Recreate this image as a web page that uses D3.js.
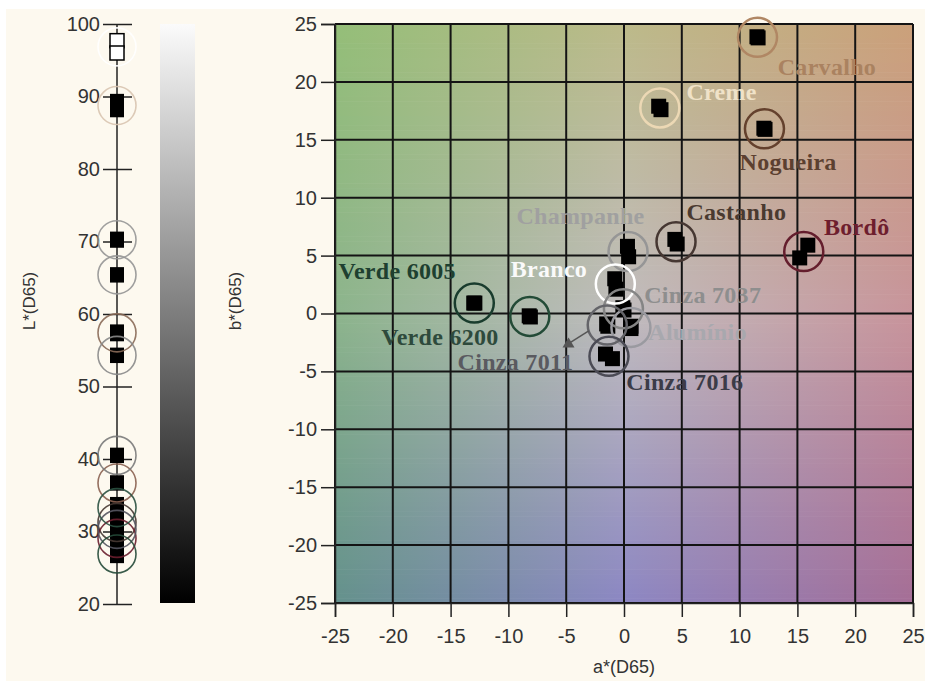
<!DOCTYPE html>
<html><head><meta charset="utf-8">
<script src="https://cdn.jsdelivr.net/npm/d3@7"></script>
<style>body{margin:0;background:#fff;overflow:hidden}</style>
</head><body>
<script>
// ---- data ----
const samples = ["Carvalho","Creme","Nogueira","Castanho","Bordô","Champanhe","Branco","Cinza 7037","Alumínio","Cinza 7011","Cinza 7016","Verde 6005","Verde 6200"];
const aStar1 = [11.5, 3.0, 12.1, 4.4, 15.2, 0.3, -0.8, -0.1, 0.6, -1.5, -1.6, -13.0, -8.2];
const aStar2 = [11.6, 3.2, 12.2, 4.6, 15.9, 0.4, -0.7, 0.0, 0.6, -1.4, -1.0, -12.9, -8.1];
const bStar1 = [23.9, 17.9, 16.0, 6.4, 4.8, 5.8, 3.0, 0.5, -1.1, -0.9, -3.5, 0.9, -0.2];
const bStar2 = [23.8, 17.6, 15.9, 6.0, 5.9, 4.9, 2.1, 0.3, -1.3, -1.1, -3.9, 0.9, -0.3];
const lStar1 = [57.6, 89.4, 36.8, 31.5, 29.5, 70.4, 97.7, 54.4, 65.5, 40.6, 30.6, 27.2, 33.8];
const lStar2 = [57.2, 88.1, 36.6, 31.0, 28.6, 70.1, 96.0, 54.2, 65.3, 40.4, 30.0, 26.6, 32.8];
const labelA = [13.3, 5.4, 10.0, 5.4, 17.3, -9.3, -9.8, 1.75, 2.1, -14.4, 0.2, -24.7, -21.0];
const labelB = [20.6, 18.4, 12.4, 8.1, 6.8, 7.7, 3.15, 0.9, -2.3, -4.9, -6.6, 3.0, -2.7];
const circleColors = ["#b08764","#ecd8b4","#64412d","#463732","#641e2d","#969696","#ffffff","#858585","#9a9aa0","#646469","#4b4b55","#193c2d","#234b37"];
const labelColors = ["#aa8260","#f0e2c8","#5c4030","#4a3a30","#6e1e2e","#a0a0a0","#fafafa","#8e8e8e","#a8a8ae","#5a5a60","#3c3c48","#1e4030","#2e4a3c"];
const lCircleColors = ["#8a6a58","#d8c4b0","#8a6050","#463732","#6a1e2d","#969696","#ffffff","#8a8a8a","#959595","#7a7a7a","#555560","#254a38","#2a5040"];
const lSquareFill = ["#000","#000","#000","#000","#000","#000","#fff","#000","#000","#000","#000","#000","#000"];
const arrowFrom = [-3.05, -1.5];
const arrowTo = [-4.8, -2.6];
const abTicks = [-25,-20,-15,-10,-5,0,5,10,15,20,25];
const lTicks = [20,30,40,50,60,70,80,90,100];
const bgTop = ["rgb(148,190,120)","rgb(188,186,138)","rgb(203,160,122)"];
const bgMid = ["rgb(140,180,140)","rgb(192,188,190)","rgb(200,148,155)"];
const bgBot = ["rgb(100,145,140)","rgb(140,135,195)","rgb(165,110,150)"];

// ---- svg ----
const W = 925, H = 681;
const svg = d3.select("body").append("svg").attr("width", W).attr("height", H);
svg.append("rect").attr("width", W).attr("height", H).attr("fill", "#fff");
svg.append("rect").attr("x", 6).attr("y", 9).attr("width", W - 6).attr("height", H - 9).attr("fill", "#fdf9ef");
const defs = svg.append("defs");

const x = d3.scaleLinear().domain([-25, 25]).range([335, 913]);
const y = d3.scaleLinear().domain([-25, 25]).range([603, 24]);
const yL = d3.scaleLinear().domain([20, 100]).range([604, 24]);
const sansFont = "'Liberation Sans', Arial, sans-serif";
const serifFont = "'Liberation Serif', 'Times New Roman', serif";
const fmt = d => String(d);

// background colour field
const N = 120;
const stripB = d3.range(N).map(i => 25 - 50 * i / N);
const step = 50 / N;
stripB.forEach((b, i) => {
  const bc = b - step / 2;
  const cols = [0, 1, 2].map(k => bc >= 0
    ? d3.interpolateRgb(bgMid[k], bgTop[k])(bc / 25)
    : d3.interpolateRgb(bgMid[k], bgBot[k])(-bc / 25));
  const g = defs.append("linearGradient").attr("id", "g" + i).attr("x1", "0%").attr("x2", "100%").attr("y1", "0%").attr("y2", "0%");
  cols.forEach((c, k) => g.append("stop").attr("offset", (k * 50) + "%").attr("stop-color", c));
  svg.append("rect").attr("x", x(-25)).attr("y", y(b)).attr("width", x(25) - x(-25))
    .attr("height", y(b - step) - y(b) + 0.6).attr("fill", "url(#g" + i + ")");
});

// grid
const grid = svg.append("g").attr("stroke", "#141414").attr("stroke-width", 2);
abTicks.forEach(t => {
  grid.append("line").attr("x1", x(t)).attr("x2", x(t)).attr("y1", y(25)).attr("y2", y(-25));
  grid.append("line").attr("x1", x(-25)).attr("x2", x(25)).attr("y1", y(t)).attr("y2", y(t));
});

// axes
function styleAxis(g) {
  g.select(".domain").attr("stroke", "#222").attr("stroke-width", 1.5);
  g.selectAll(".tick line").attr("stroke", "#222").attr("stroke-width", 1.5);
  g.selectAll(".tick text").attr("fill", "#333").style("font-family", sansFont).style("font-size", "20px");
}
svg.append("g").attr("transform", `translate(${x(-25)},0)`)
  .call(d3.axisLeft(y).tickValues(abTicks).tickFormat(fmt).tickSize(14).tickPadding(4)).call(styleAxis);
svg.append("g").attr("transform", `translate(0,${y(-25)})`)
  .call(d3.axisBottom(x).tickValues(abTicks).tickFormat(fmt).tickSize(14).tickPadding(12)).call(styleAxis);

svg.append("text").attr("x", x(0)).attr("y", 673).attr("text-anchor", "middle")
  .style("font-family", sansFont).style("font-size", "18px").attr("fill", "#333").text("a*(D65)");

// main plot marks
const idx = d3.range(samples.length);
const sq = 15;
const marks = svg.append("g");
idx.forEach(i => {
  [[aStar1[i], bStar1[i]], [aStar2[i], bStar2[i]]].forEach(([a, b]) => {
    marks.append("rect").attr("x", x(a) - sq / 2).attr("y", y(b) - sq / 2)
      .attr("width", sq).attr("height", sq).attr("fill", "#000");
  });
});
idx.forEach(i => {
  const am = (aStar1[i] + aStar2[i]) / 2, bm = (bStar1[i] + bStar2[i]) / 2;
  marks.append("circle").attr("cx", x(am)).attr("cy", y(bm)).attr("r", 19.5)
    .attr("fill", "none").attr("stroke", circleColors[i]).attr("stroke-width", 2.5);
});
// arrow for Cinza 7011
marks.append("line").attr("x1", x(arrowFrom[0])).attr("y1", y(arrowFrom[1]))
  .attr("x2", x(arrowTo[0])).attr("y2", y(arrowTo[1])).attr("stroke", "#555").attr("stroke-width", 1.5);
marks.append("path")
  .attr("d", `M${x(arrowTo[0])},${y(arrowTo[1]) - 6} l6,10 l-12,0 Z`)
  .attr("fill", "#555");

// labels
idx.forEach(i => {
  svg.append("text").attr("x", x(labelA[i])).attr("y", y(labelB[i]))
    .style("font-family", serifFont).style("font-weight", "bold").style("font-size", "24px")
    .style("letter-spacing", "0.3px")
    .attr("fill", labelColors[i]).text(samples[i]);
});

// L* axis
svg.append("line").attr("x1", 117).attr("x2", 117).attr("y1", yL(20)).attr("y2", yL(100))
  .attr("stroke", "#222").attr("stroke-width", 1.5);
const lAx = svg.append("g").attr("transform", "translate(132,0)")
  .call(d3.axisLeft(yL).tickValues(lTicks).tickFormat(fmt).tickSize(29).tickPadding(3)).call(styleAxis);
lAx.select(".domain").remove();

const lsq = 14;
idx.forEach(i => {
  [lStar1[i], lStar2[i]].forEach(L => {
    svg.append("rect").attr("x", 117 - lsq / 2).attr("y", yL(L) - lsq / 2)
      .attr("width", lsq).attr("height", lsq).attr("fill", lSquareFill[i])
      .attr("stroke", "#000").attr("stroke-width", lSquareFill[i] === "#fff" ? 1.5 : 0);
  });
});
idx.forEach(i => {
  svg.append("circle").attr("cx", 117).attr("cy", yL((lStar1[i] + lStar2[i]) / 2)).attr("r", 19)
    .attr("fill", "none").attr("stroke", lCircleColors[i]).attr("stroke-width", 1.6).attr("stroke-opacity", 0.9);
});
svg.append("text").attr("transform", "translate(35,301) rotate(-90)").attr("text-anchor", "middle")
  .style("font-family", sansFont).style("font-size", "17px").attr("fill", "#333").text("L*(D65)");

// b* gradient bar
const bg = defs.append("linearGradient").attr("id", "bbar").attr("x1", "0%").attr("x2", "0%").attr("y1", "0%").attr("y2", "100%");
bg.append("stop").attr("offset", "0%").attr("stop-color", "#fbfbfb");
bg.append("stop").attr("offset", "100%").attr("stop-color", "#000");
svg.append("rect").attr("x", 160).attr("y", y(25)).attr("width", 35).attr("height", y(-25) - y(25)).attr("fill", "url(#bbar)");
svg.append("text").attr("transform", "translate(241,301) rotate(-90)").attr("text-anchor", "middle")
  .style("font-family", sansFont).style("font-size", "17px").attr("fill", "#333").text("b*(D65)");
</script>
</body></html>
